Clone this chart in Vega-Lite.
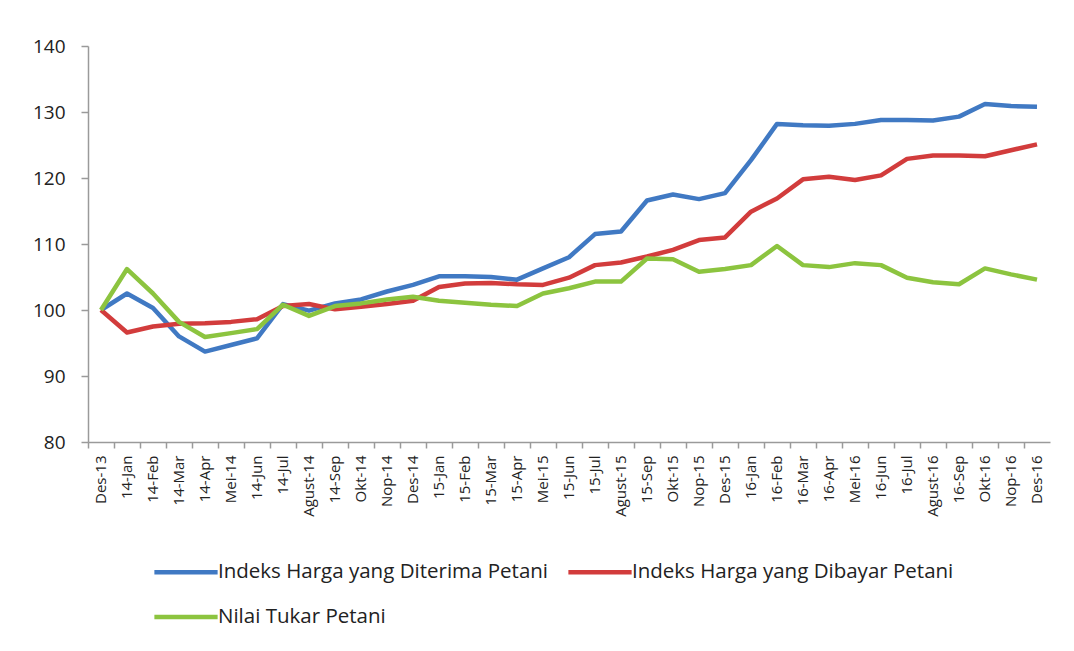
{
  "$schema": "https://vega.github.io/schema/vega-lite/v6.json",
  "width": 962,
  "height": 396,
  "autosize": {"type": "none"},
  "padding": {"left": 88, "top": 46, "right": 24, "bottom": 209},
  "background": "white",
  "config": {
    "view": {"stroke": null},
    "font": "Open Sans",
    "axis": {"domainColor": "#9a9a9a", "tickColor": "#9a9a9a", "domainWidth": 1.5, "tickWidth": 1.5, "labelColor": "#222222", "grid": false, "title": null, "labelFont": "Open Sans"},
    "legend": {"labelFont": "Open Sans"}
  },
  "data": {"values": [
    {"m":"Des-13","s":"Indeks Harga yang Diterima Petani","v":100},
    {"m":"14-Jan","s":"Indeks Harga yang Diterima Petani","v":102.5},
    {"m":"14-Feb","s":"Indeks Harga yang Diterima Petani","v":100.3},
    {"m":"14-Mar","s":"Indeks Harga yang Diterima Petani","v":96},
    {"m":"14-Apr","s":"Indeks Harga yang Diterima Petani","v":93.7},
    {"m":"Mei-14","s":"Indeks Harga yang Diterima Petani","v":94.7},
    {"m":"14-Jun","s":"Indeks Harga yang Diterima Petani","v":95.7},
    {"m":"14-Jul","s":"Indeks Harga yang Diterima Petani","v":100.9},
    {"m":"Agust-14","s":"Indeks Harga yang Diterima Petani","v":99.9},
    {"m":"14-Sep","s":"Indeks Harga yang Diterima Petani","v":101},
    {"m":"Okt-14","s":"Indeks Harga yang Diterima Petani","v":101.6},
    {"m":"Nop-14","s":"Indeks Harga yang Diterima Petani","v":102.8},
    {"m":"Des-14","s":"Indeks Harga yang Diterima Petani","v":103.8},
    {"m":"15-Jan","s":"Indeks Harga yang Diterima Petani","v":105.1},
    {"m":"15-Feb","s":"Indeks Harga yang Diterima Petani","v":105.1},
    {"m":"15-Mar","s":"Indeks Harga yang Diterima Petani","v":105},
    {"m":"15-Apr","s":"Indeks Harga yang Diterima Petani","v":104.6},
    {"m":"Mei-15","s":"Indeks Harga yang Diterima Petani","v":106.3},
    {"m":"15-Jun","s":"Indeks Harga yang Diterima Petani","v":108},
    {"m":"15-Jul","s":"Indeks Harga yang Diterima Petani","v":111.5},
    {"m":"Agust-15","s":"Indeks Harga yang Diterima Petani","v":111.9},
    {"m":"15-Sep","s":"Indeks Harga yang Diterima Petani","v":116.6},
    {"m":"Okt-15","s":"Indeks Harga yang Diterima Petani","v":117.5},
    {"m":"Nop-15","s":"Indeks Harga yang Diterima Petani","v":116.8},
    {"m":"Des-15","s":"Indeks Harga yang Diterima Petani","v":117.7},
    {"m":"16-Jan","s":"Indeks Harga yang Diterima Petani","v":122.7},
    {"m":"16-Feb","s":"Indeks Harga yang Diterima Petani","v":128.2},
    {"m":"16-Mar","s":"Indeks Harga yang Diterima Petani","v":128},
    {"m":"16-Apr","s":"Indeks Harga yang Diterima Petani","v":127.9},
    {"m":"Mei-16","s":"Indeks Harga yang Diterima Petani","v":128.2},
    {"m":"16-Jun","s":"Indeks Harga yang Diterima Petani","v":128.8},
    {"m":"16-Jul","s":"Indeks Harga yang Diterima Petani","v":128.8},
    {"m":"Agust-16","s":"Indeks Harga yang Diterima Petani","v":128.7},
    {"m":"16-Sep","s":"Indeks Harga yang Diterima Petani","v":129.3},
    {"m":"Okt-16","s":"Indeks Harga yang Diterima Petani","v":131.2},
    {"m":"Nop-16","s":"Indeks Harga yang Diterima Petani","v":130.9},
    {"m":"Des-16","s":"Indeks Harga yang Diterima Petani","v":130.8},
    {"m":"Des-13","s":"Indeks Harga yang Dibayar Petani","v":100},
    {"m":"14-Jan","s":"Indeks Harga yang Dibayar Petani","v":96.6},
    {"m":"14-Feb","s":"Indeks Harga yang Dibayar Petani","v":97.5},
    {"m":"14-Mar","s":"Indeks Harga yang Dibayar Petani","v":97.9},
    {"m":"14-Apr","s":"Indeks Harga yang Dibayar Petani","v":98},
    {"m":"Mei-14","s":"Indeks Harga yang Dibayar Petani","v":98.2},
    {"m":"14-Jun","s":"Indeks Harga yang Dibayar Petani","v":98.6},
    {"m":"14-Jul","s":"Indeks Harga yang Dibayar Petani","v":100.6},
    {"m":"Agust-14","s":"Indeks Harga yang Dibayar Petani","v":100.9},
    {"m":"14-Sep","s":"Indeks Harga yang Dibayar Petani","v":100.1},
    {"m":"Okt-14","s":"Indeks Harga yang Dibayar Petani","v":100.5},
    {"m":"Nop-14","s":"Indeks Harga yang Dibayar Petani","v":100.9},
    {"m":"Des-14","s":"Indeks Harga yang Dibayar Petani","v":101.4},
    {"m":"15-Jan","s":"Indeks Harga yang Dibayar Petani","v":103.5},
    {"m":"15-Feb","s":"Indeks Harga yang Dibayar Petani","v":104},
    {"m":"15-Mar","s":"Indeks Harga yang Dibayar Petani","v":104.1},
    {"m":"15-Apr","s":"Indeks Harga yang Dibayar Petani","v":103.9},
    {"m":"Mei-15","s":"Indeks Harga yang Dibayar Petani","v":103.8},
    {"m":"15-Jun","s":"Indeks Harga yang Dibayar Petani","v":104.9},
    {"m":"15-Jul","s":"Indeks Harga yang Dibayar Petani","v":106.8},
    {"m":"Agust-15","s":"Indeks Harga yang Dibayar Petani","v":107.2},
    {"m":"15-Sep","s":"Indeks Harga yang Dibayar Petani","v":108.1},
    {"m":"Okt-15","s":"Indeks Harga yang Dibayar Petani","v":109.1},
    {"m":"Nop-15","s":"Indeks Harga yang Dibayar Petani","v":110.6},
    {"m":"Des-15","s":"Indeks Harga yang Dibayar Petani","v":111},
    {"m":"16-Jan","s":"Indeks Harga yang Dibayar Petani","v":114.9},
    {"m":"16-Feb","s":"Indeks Harga yang Dibayar Petani","v":116.9},
    {"m":"16-Mar","s":"Indeks Harga yang Dibayar Petani","v":119.8},
    {"m":"16-Apr","s":"Indeks Harga yang Dibayar Petani","v":120.2},
    {"m":"Mei-16","s":"Indeks Harga yang Dibayar Petani","v":119.7},
    {"m":"16-Jun","s":"Indeks Harga yang Dibayar Petani","v":120.4},
    {"m":"16-Jul","s":"Indeks Harga yang Dibayar Petani","v":122.9},
    {"m":"Agust-16","s":"Indeks Harga yang Dibayar Petani","v":123.4},
    {"m":"16-Sep","s":"Indeks Harga yang Dibayar Petani","v":123.4},
    {"m":"Okt-16","s":"Indeks Harga yang Dibayar Petani","v":123.3},
    {"m":"Nop-16","s":"Indeks Harga yang Dibayar Petani","v":124.2},
    {"m":"Des-16","s":"Indeks Harga yang Dibayar Petani","v":125.1},
    {"m":"Des-13","s":"Nilai Tukar Petani","v":100},
    {"m":"14-Jan","s":"Nilai Tukar Petani","v":106.2},
    {"m":"14-Feb","s":"Nilai Tukar Petani","v":102.5},
    {"m":"14-Mar","s":"Nilai Tukar Petani","v":98.2},
    {"m":"14-Apr","s":"Nilai Tukar Petani","v":95.9},
    {"m":"Mei-14","s":"Nilai Tukar Petani","v":96.5},
    {"m":"14-Jun","s":"Nilai Tukar Petani","v":97.1},
    {"m":"14-Jul","s":"Nilai Tukar Petani","v":100.8},
    {"m":"Agust-14","s":"Nilai Tukar Petani","v":99.1},
    {"m":"14-Sep","s":"Nilai Tukar Petani","v":100.6},
    {"m":"Okt-14","s":"Nilai Tukar Petani","v":101},
    {"m":"Nop-14","s":"Nilai Tukar Petani","v":101.6},
    {"m":"Des-14","s":"Nilai Tukar Petani","v":102},
    {"m":"15-Jan","s":"Nilai Tukar Petani","v":101.4},
    {"m":"15-Feb","s":"Nilai Tukar Petani","v":101.1},
    {"m":"15-Mar","s":"Nilai Tukar Petani","v":100.8},
    {"m":"15-Apr","s":"Nilai Tukar Petani","v":100.6},
    {"m":"Mei-15","s":"Nilai Tukar Petani","v":102.5},
    {"m":"15-Jun","s":"Nilai Tukar Petani","v":103.3},
    {"m":"15-Jul","s":"Nilai Tukar Petani","v":104.3},
    {"m":"Agust-15","s":"Nilai Tukar Petani","v":104.3},
    {"m":"15-Sep","s":"Nilai Tukar Petani","v":107.8},
    {"m":"Okt-15","s":"Nilai Tukar Petani","v":107.7},
    {"m":"Nop-15","s":"Nilai Tukar Petani","v":105.8},
    {"m":"Des-15","s":"Nilai Tukar Petani","v":106.2},
    {"m":"16-Jan","s":"Nilai Tukar Petani","v":106.8},
    {"m":"16-Feb","s":"Nilai Tukar Petani","v":109.7},
    {"m":"16-Mar","s":"Nilai Tukar Petani","v":106.8},
    {"m":"16-Apr","s":"Nilai Tukar Petani","v":106.5},
    {"m":"Mei-16","s":"Nilai Tukar Petani","v":107.1},
    {"m":"16-Jun","s":"Nilai Tukar Petani","v":106.8},
    {"m":"16-Jul","s":"Nilai Tukar Petani","v":104.9},
    {"m":"Agust-16","s":"Nilai Tukar Petani","v":104.2},
    {"m":"16-Sep","s":"Nilai Tukar Petani","v":103.9},
    {"m":"Okt-16","s":"Nilai Tukar Petani","v":106.3},
    {"m":"Nop-16","s":"Nilai Tukar Petani","v":105.4},
    {"m":"Des-16","s":"Nilai Tukar Petani","v":104.6}
  ]},
  "mark": {"type": "line", "strokeWidth": 4.5, "strokeJoin": "round"},
  "encoding": {
    "x": {
      "field": "m", "type": "ordinal", "sort": null,
      "scale": {"type": "band", "paddingInner": 0, "paddingOuter": 0},
      "axis": {"labelAngle": 270, "labelAlign": "right", "labelBaseline": "middle", "labelFontSize": 15, "tickSize": 6, "labelPadding": 7, "bandPosition": 0}
    },
    "y": {
      "field": "v", "type": "quantitative",
      "scale": {"domain": [80, 140], "nice": false, "zero": false},
      "axis": {"values": [80, 90, 100, 110, 120, 130, 140], "tickSize": 7, "labelPadding": 16, "labelFontSize": 19}
    },
    "color": {
      "field": "s", "type": "nominal",
      "scale": {"domain": ["Indeks Harga yang Diterima Petani", "Indeks Harga yang Dibayar Petani", "Nilai Tukar Petani"], "range": ["#4079c3", "#d23c3c", "#8cc43f"]},
      "legend": {"orient": "none", "legendX": 64, "legendY": 492, "direction": "horizontal", "columns": 2, "title": null, "symbolType": "stroke", "symbolSize": 4000, "symbolStrokeWidth": 4.5, "labelFontSize": 20.5, "labelColor": "#222222", "labelOffset": -2, "columnPadding": 10, "rowPadding": 0, "labelLimit": 500}
    }
  }
}
